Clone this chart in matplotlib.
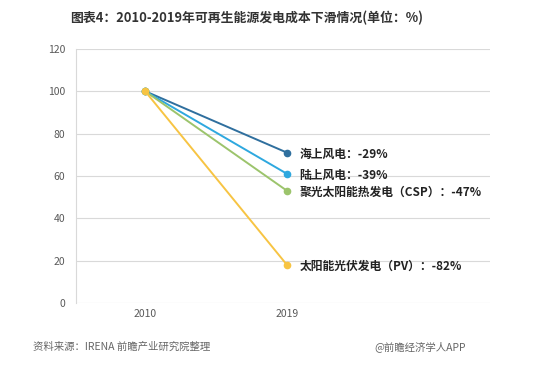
import matplotlib.pyplot as plt

plt.rcParams['font.family'] = ['Noto Sans CJK SC', 'DejaVu Sans']

years = ['2010', '2019']
series_names = ['海上风电', '陆上风电', '聚光太阳能热发电（CSP）', '太阳能光伏发电（PV）']
start_values = [100, 100, 100, 100]
end_values = [71, 61, 53, 18]
changes = ['-29%', '-39%', '-47%', '-82%']
colors = ['#2f6f9e', '#2ea8df', '#9cc46c', '#f7c443']

fig = plt.figure(figsize=(5.56, 3.70), dpi=100)
ax = fig.add_axes([0.137, 0.181, 0.744, 0.687])

for name, v0, v1, ch, c in zip(series_names, start_values, end_values, changes, colors):
    ax.plot([0, 1], [v0, v1], color=c, lw=1.4, marker='o', ms=4.5, zorder=3)
    ax.annotate(name + '：' + ch, xy=(1, v1), xytext=(9, -1), textcoords='offset points',
                va='center', ha='left', fontsize=8.5, fontweight='bold', color='#222222')

ax.set_xlim(-0.486, 2.43)
ax.set_ylim(0, 120)
ax.set_xticks([0, 1])
ax.set_xticklabels(years)
ax.set_yticks(range(0, 121, 20))
ax.grid(axis='y', color='#d9d9d9', lw=0.8)
ax.set_axisbelow(True)
for s in ['top', 'right', 'bottom']:
    ax.spines[s].set_visible(False)
ax.spines['left'].set_color('#d9d9d9')
ax.tick_params(length=0, labelsize=7.5, labelcolor='#595959', pad=8)
ax.tick_params(axis='x', pad=4)

fig.text(0.126, 0.952, '图表4：2010-2019年可再生能源发电成本下滑情况(单位：%)',
         fontsize=9.3, fontweight='bold', color='#333333', va='center')
fig.text(0.06, 0.062, '资料来源：IRENA 前瞻产业研究院整理', fontsize=7.5, color='#666666', va='center')
fig.text(0.838, 0.062, '@前瞻经济学人APP', fontsize=7.5, color='#666666', va='center', ha='right')

fig.savefig('out.png', dpi=100)
